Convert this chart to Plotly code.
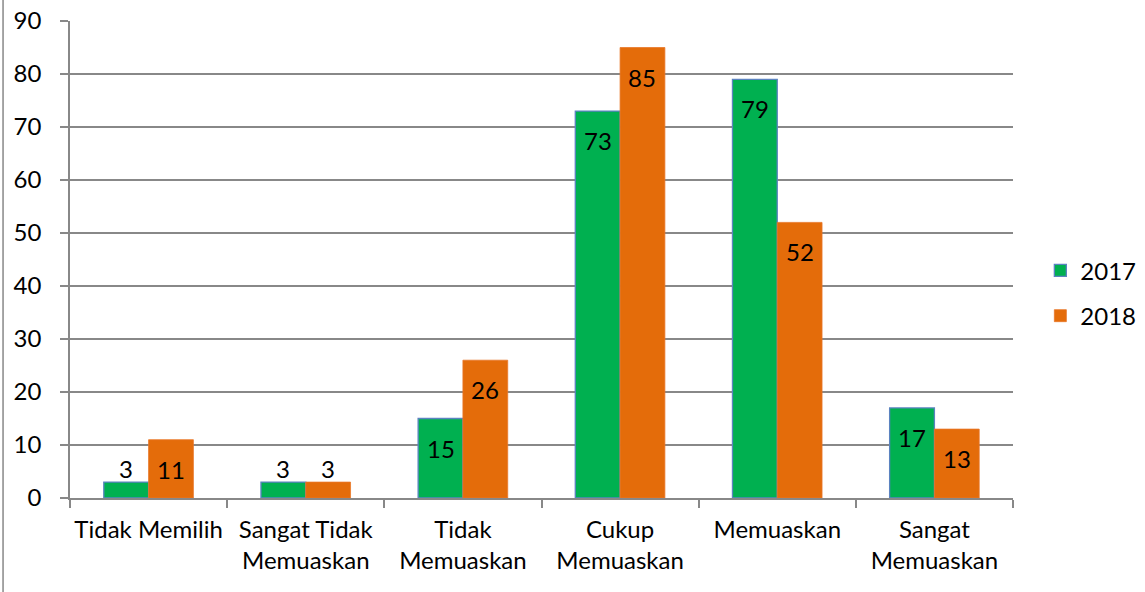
import plotly.graph_objects as go

categories = ["Tidak Memilih", "Sangat Tidak<br>Memuaskan", "Tidak<br>Memuaskan",
              "Cukup<br>Memuaskan", "Memuaskan", "Sangat<br>Memuaskan"]
values_2017 = [3, 3, 15, 73, 79, 17]
values_2018 = [11, 3, 26, 85, 52, 13]
y_ticks = [0, 10, 20, 30, 40, 50, 60, 70, 80, 90]

FONT = "Lato"
FS = 24
BARGAP = 0.43
GRAY = "#888888"

fig = go.Figure()
fig.add_trace(go.Bar(
    name="2017", x=categories, y=values_2017, legendgroup="a",
    marker=dict(color="#00B050", line=dict(color="#5B83C0", width=1.3)),
    textposition="none",
))
fig.add_trace(go.Bar(
    name="2018", x=categories, y=values_2018, legendgroup="b",
    marker=dict(color="#E46C0A", line=dict(color="#E8772A", width=0.8)),
    textposition="none",
))

# data labels: "inside end" like the original, above the bar when it is too short
bar_w = (1 - BARGAP) / 2
annotations = []
for series, offset in ((values_2017, -bar_w / 2), (values_2018, bar_w / 2)):
    for i, v in enumerate(series):
        inside = v >= 8
        annotations.append(dict(
            x=i + offset, y=v, xref="x", yref="y", text=str(v), showarrow=False,
            yanchor="top" if inside else "bottom", yshift=-13 if inside else -3,
            font=dict(family=FONT, size=FS, color="black"),
        ))

fig.update_layout(
    width=1145, height=592,
    margin=dict(l=70, r=132, t=21, b=94, autoexpand=False),
    paper_bgcolor="white", plot_bgcolor="white",
    barmode="group", bargap=BARGAP, bargroupgap=0,
    font=dict(family=FONT, size=FS, color="black"),
    legend=dict(x=1.029, y=0.429, xanchor="left", yanchor="middle",
                font=dict(family=FONT, size=FS), tracegroupgap=11),
    annotations=annotations,
    shapes=[dict(type="line", xref="paper", yref="paper", x0=-0.071, x1=-0.071,
                 y0=-0.3, y1=1.2, line=dict(color=GRAY, width=1.5))],
)
fig.update_xaxes(
    showline=True, linecolor=GRAY, linewidth=1.5, tickangle=0, automargin=False,
    ticks="outside", tickson="boundaries", ticklen=8, tickcolor=GRAY, tickwidth=1.5,
    tickfont=dict(family=FONT, size=FS), showgrid=False, ticklabelstandoff=9,
)
fig.update_yaxes(
    range=[0, 90], tickvals=y_ticks, showline=True, linecolor=GRAY, linewidth=1.5,
    ticks="outside", ticklen=8, tickcolor=GRAY, tickwidth=1.5, automargin=False,
    showgrid=True, gridcolor=GRAY, gridwidth=1.5, zeroline=False,
    tickfont=dict(family=FONT, size=FS), ticklabelstandoff=14,
)
fig.write_html("out.html", config={"displayModeBar": False},
               post_script="document.body.style.margin='0';")
